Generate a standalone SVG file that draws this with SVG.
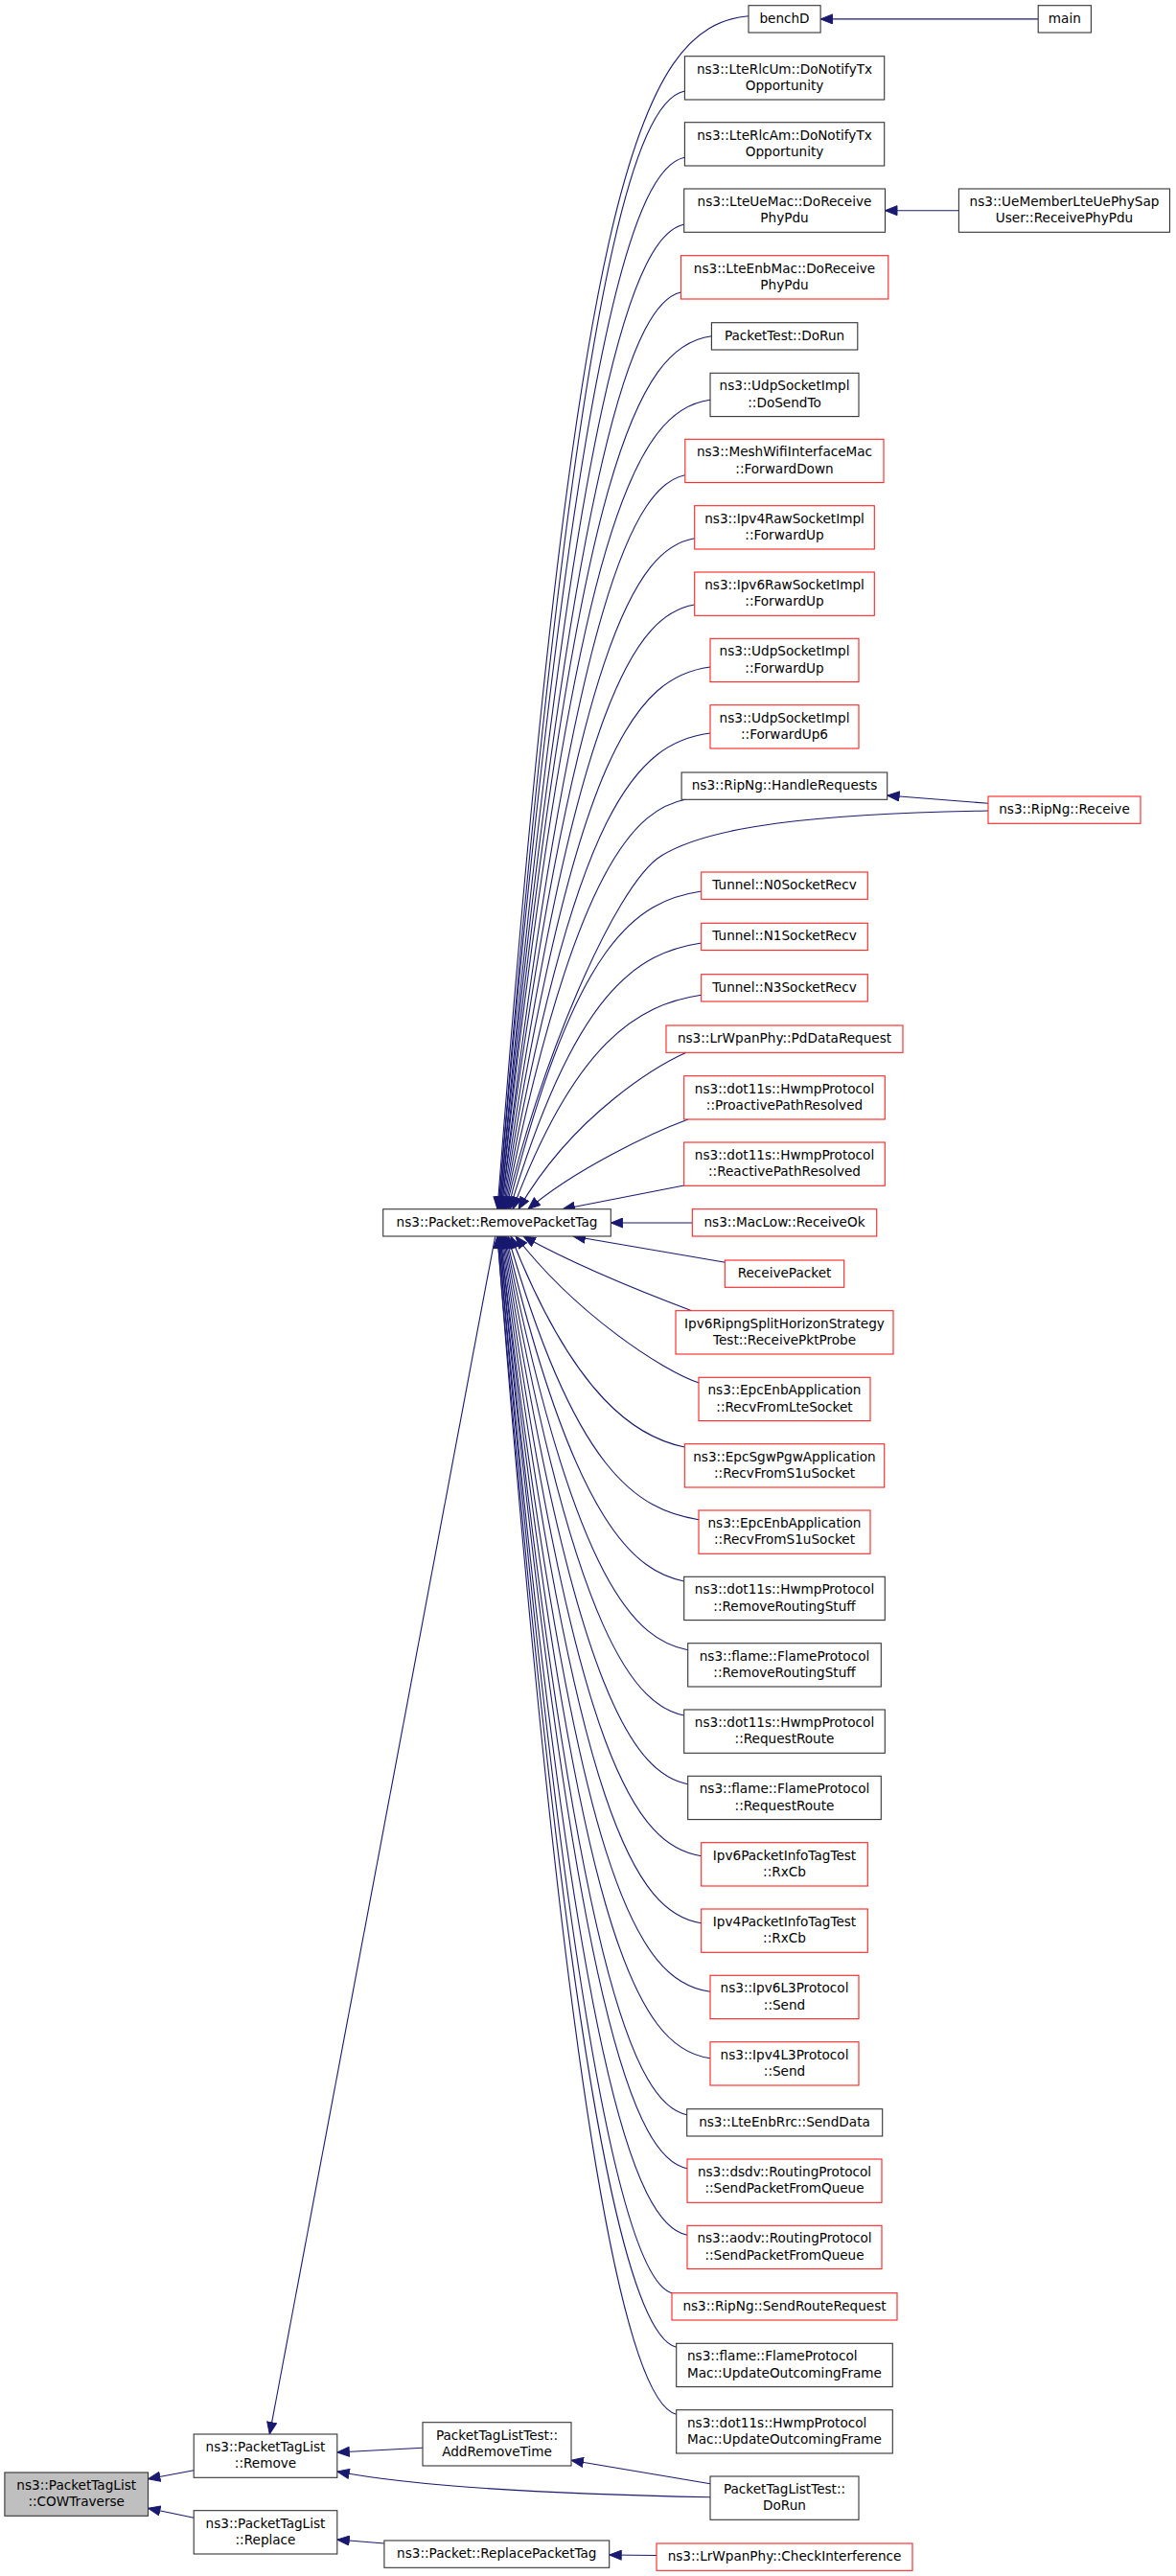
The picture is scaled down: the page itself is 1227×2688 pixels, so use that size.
<svg xmlns="http://www.w3.org/2000/svg" width="1227" height="2688" viewBox="0 0 1227 2688">
<style>
.n rect{fill:#fff;stroke:#333;stroke-width:1.1}
.r rect{fill:#fff;stroke:#f22;stroke-width:1.1}
.g rect{fill:#bfbfbf;stroke:#333;stroke-width:1.1}
text{font-family:"DejaVu Sans","Liberation Sans",sans-serif;font-size:13.6px;fill:#000;text-anchor:middle}
text.l{text-anchor:start}
#edges path{fill:none;stroke:#191970;stroke-width:1.1;marker-end:url(#a)}
</style>
<defs>
<marker id="a" markerUnits="userSpaceOnUse" markerWidth="14" markerHeight="11" viewBox="0 0 14 11" refX="13" refY="5.5" orient="auto">
<path d="M0.5,0.5 L13,5.5 L0.5,10.5 Z" fill="#191970" stroke="#191970" stroke-width="1"/>
</marker>
</defs>
<rect width="1227" height="2688" fill="#fff"/>
<g id="edges">
<path d="M781,16.7 C665,26.7 600,203.5 519,1261.7"/>
<path d="M714.4,95 C665,105 600,270 520,1261.7"/>
<path d="M714.4,164.3 C665,174.3 600,328.9 520,1261.7"/>
<path d="M713.7,234.3 C665,244.3 600,388.4 521,1261.7"/>
<path d="M710.4,305 C665,315 600,448.5 521,1261.7"/>
<path d="M742.4,350.7 C665,360.7 600,487.4 522,1261.7"/>
<path d="M741,417.3 C665,427.3 600,544 522,1261.7"/>
<path d="M714.8,495.7 C665,505.7 600,610.6 523,1261.7"/>
<path d="M724.7,561.7 C665,571.7 600,666.7 523,1261.7"/>
<path d="M724.7,631 C665,641 600,725.6 524,1261.7"/>
<path d="M741,696 C665,706 600,780.9 525,1261.7"/>
<path d="M741,765 C665,775 600,839.5 526,1261.7"/>
<path d="M716,834 C665,844 600,898.2 527,1261.7"/>
<path d="M1031,846 C850,849 740,862 690,893 S560,1120 528,1261.7"/>
<path d="M731.7,930 C665,940 600,980 530,1261.7"/>
<path d="M731.7,984 C665,994 600,1034 532,1261.7"/>
<path d="M731.7,1038.3 C665,1048.3 600,1088.3 535,1261.7"/>
<path d="M716,1098.3 C690,1110 600,1160 541,1261.7"/>
<path d="M718,1168 C680,1182 600,1220 551,1261.7"/>
<path d="M713.7,1237 L587,1261.7"/>
<path d="M722.3,1276 L637.3,1276"/>
<path d="M756.7,1317.3 L598,1290"/>
<path d="M721.7,1367.7 C680,1352 600,1320 546,1290"/>
<path d="M730,1443.3 C690,1430 600,1370 538,1290"/>
<path d="M714.3,1510 C665,1500 600,1460 533,1290"/>
<path d="M729,1585.7 C665,1575.7 600,1535.7 530,1290"/>
<path d="M713.7,1650 C665,1640 600,1596 528,1290"/>
<path d="M717.7,1721.7 C665,1711.7 600,1656.9 527,1290"/>
<path d="M713.7,1790 C665,1780 600,1715 526,1290"/>
<path d="M717.7,1861.7 C665,1851.7 600,1775.9 525,1290"/>
<path d="M731.7,1936.7 C665,1926.7 600,1839.7 524,1290"/>
<path d="M731.7,2006.7 C665,1996.7 600,1899.2 523,1290"/>
<path d="M741,2078.3 C665,2068.3 600,1960.1 522,1290"/>
<path d="M741,2147.7 C665,2137.7 600,2019 522,1290"/>
<path d="M716.7,2206.7 C665,2196.7 600,2069.2 521,1290"/>
<path d="M717,2262.7 C665,2252.7 600,2116.8 521,1290"/>
<path d="M717,2332.3 C665,2322.3 600,2176 520,1290"/>
<path d="M701,2392.7 C665,2382.7 600,2227.3 520,1290"/>
<path d="M705.7,2449.3 C665,2439.3 600,2275.4 519,1290"/>
<path d="M705.7,2519.3 C665,2509.3 600,2334.9 519,1290"/>
<path d="M1083.2,19.9 L856.1,19.9"/>
<path d="M1000.4,219.7 L923.5,219.7"/>
<path d="M1031,838.3 L925.7,830"/>
<path d="M516.7,1290 L281.3,2540"/>
<path d="M441,2554.3 L351.8,2559"/>
<path d="M741,2591.7 L596,2567.3"/>
<path d="M741,2605.7 C600,2603 440,2596 351.8,2579"/>
<path d="M202.2,2577.7 L154.5,2586.7"/>
<path d="M202.2,2627.3 L154.5,2617.3"/>
<path d="M400.9,2654 L351.8,2650"/>
<path d="M685,2666.5 L635.7,2666"/>
</g>
<g id="n_benchD" class="n"><rect x="781" y="5.7" width="75.1" height="28.3"/><text x="818.5" y="23.7">benchD</text></g>
<g id="n_main" class="n"><rect x="1083.2" y="5.7" width="55.2" height="28.3"/><text x="1110.8" y="23.7">main</text></g>
<g id="n_LteRlcUm" class="n"><rect x="714.4" y="58.7" width="208.3" height="45.3"/><text x="818.5" y="76.7">ns3::LteRlcUm::DoNotifyTx</text><text x="818.5" y="94">Opportunity</text></g>
<g id="n_LteRlcAm" class="n"><rect x="714.4" y="127.7" width="208.3" height="45.3"/><text x="818.5" y="145.7">ns3::LteRlcAm::DoNotifyTx</text><text x="818.5" y="163">Opportunity</text></g>
<g id="n_LteUeMac" class="n"><rect x="713.7" y="197" width="209.8" height="45.3"/><text x="818.5" y="215">ns3::LteUeMac::DoReceive</text><text x="818.5" y="232.3">PhyPdu</text></g>
<g id="n_UeMember" class="n"><rect x="1000.4" y="197" width="220.1" height="45.3"/><text x="1110.5" y="215">ns3::UeMemberLteUePhySap</text><text x="1110.5" y="232.3">User::ReceivePhyPdu</text></g>
<g id="n_LteEnbMac" class="r"><rect x="710.4" y="266.7" width="216.4" height="45.3"/><text x="818.5" y="284.7">ns3::LteEnbMac::DoReceive</text><text x="818.5" y="302">PhyPdu</text></g>
<g id="n_PacketTest" class="n"><rect x="742.4" y="336.7" width="152.4" height="28.3"/><text x="818.5" y="354.7">PacketTest::DoRun</text></g>
<g id="n_DoSendTo" class="n"><rect x="741" y="389.3" width="155" height="45.3"/><text x="818.5" y="407.3">ns3::UdpSocketImpl</text><text x="818.5" y="424.6">::DoSendTo</text></g>
<g id="n_MeshWifi" class="r"><rect x="714.8" y="458.3" width="207.2" height="45.3"/><text x="818.5" y="476.3">ns3::MeshWifiInterfaceMac</text><text x="818.5" y="493.6">::ForwardDown</text></g>
<g id="n_Ipv4Raw" class="r"><rect x="724.7" y="527.7" width="187.6" height="45.3"/><text x="818.5" y="545.7">ns3::Ipv4RawSocketImpl</text><text x="818.5" y="563">::ForwardUp</text></g>
<g id="n_Ipv6Raw" class="r"><rect x="724.7" y="597" width="187.6" height="45.3"/><text x="818.5" y="615">ns3::Ipv6RawSocketImpl</text><text x="818.5" y="632.3">::ForwardUp</text></g>
<g id="n_UdpFwdUp" class="r"><rect x="741" y="666.3" width="155" height="45.3"/><text x="818.5" y="684.3">ns3::UdpSocketImpl</text><text x="818.5" y="701.6">::ForwardUp</text></g>
<g id="n_UdpFwdUp6" class="r"><rect x="741" y="735.7" width="155" height="45.3"/><text x="818.5" y="753.7">ns3::UdpSocketImpl</text><text x="818.5" y="771">::ForwardUp6</text></g>
<g id="n_HandleRequests" class="n"><rect x="711.1" y="806" width="214.6" height="28.3"/><text x="818.5" y="824">ns3::RipNg::HandleRequests</text></g>
<g id="n_Receive" class="r"><rect x="1031" y="831" width="159" height="28.3"/><text x="1110.5" y="849">ns3::RipNg::Receive</text></g>
<g id="n_N0" class="r"><rect x="731.7" y="910" width="173.6" height="28.3"/><text x="818.5" y="928">Tunnel::N0SocketRecv</text></g>
<g id="n_N1" class="r"><rect x="731.7" y="963.3" width="173.6" height="28.3"/><text x="818.5" y="981.3">Tunnel::N1SocketRecv</text></g>
<g id="n_N3" class="r"><rect x="731.7" y="1016.7" width="173.6" height="28.3"/><text x="818.5" y="1034.7">Tunnel::N3SocketRecv</text></g>
<g id="n_PdData" class="r"><rect x="695" y="1070" width="247" height="28.3"/><text x="818.5" y="1088">ns3::LrWpanPhy::PdDataRequest</text></g>
<g id="n_Proactive" class="r"><rect x="713.7" y="1122.7" width="209.6" height="45.3"/><text x="818.5" y="1140.7">ns3::dot11s::HwmpProtocol</text><text x="818.5" y="1158">::ProactivePathResolved</text></g>
<g id="n_Reactive" class="r"><rect x="713.7" y="1192" width="209.6" height="45.3"/><text x="818.5" y="1210">ns3::dot11s::HwmpProtocol</text><text x="818.5" y="1227.3">::ReactivePathResolved</text></g>
<g id="n_MacLow" class="r"><rect x="722.3" y="1261.7" width="192.4" height="28.3"/><text x="818.5" y="1279.7">ns3::MacLow::ReceiveOk</text></g>
<g id="n_RemovePacketTag" class="n"><rect x="399.7" y="1261.7" width="237.6" height="28.3"/><text x="518.5" y="1279.7">ns3::Packet::RemovePacketTag</text></g>
<g id="n_ReceivePacket" class="r"><rect x="756.3" y="1315" width="124.4" height="28.3"/><text x="818.5" y="1333">ReceivePacket</text></g>
<g id="n_Ipv6Ripng" class="r"><rect x="705" y="1367.7" width="227" height="45.3"/><text x="818.5" y="1385.7">Ipv6RipngSplitHorizonStrategy</text><text x="818.5" y="1403">Test::ReceivePktProbe</text></g>
<g id="n_EpcEnbLte" class="r"><rect x="729" y="1437.3" width="179" height="45.3"/><text x="818.5" y="1455.3">ns3::EpcEnbApplication</text><text x="818.5" y="1472.6">::RecvFromLteSocket</text></g>
<g id="n_EpcSgw" class="r"><rect x="714.3" y="1506.7" width="208.4" height="45.3"/><text x="818.5" y="1524.7">ns3::EpcSgwPgwApplication</text><text x="818.5" y="1542">::RecvFromS1uSocket</text></g>
<g id="n_EpcEnbS1u" class="r"><rect x="729" y="1576" width="179" height="45.3"/><text x="818.5" y="1594">ns3::EpcEnbApplication</text><text x="818.5" y="1611.3">::RecvFromS1uSocket</text></g>
<g id="n_dot11sRRS" class="n"><rect x="713.7" y="1645.3" width="209.6" height="45.3"/><text x="818.5" y="1663.3">ns3::dot11s::HwmpProtocol</text><text x="818.5" y="1680.6">::RemoveRoutingStuff</text></g>
<g id="n_flameRRS" class="n"><rect x="717.7" y="1714.7" width="201.6" height="45.3"/><text x="818.5" y="1732.7">ns3::flame::FlameProtocol</text><text x="818.5" y="1750">::RemoveRoutingStuff</text></g>
<g id="n_dot11sRR" class="n"><rect x="713.7" y="1784" width="209.6" height="45.3"/><text x="818.5" y="1802">ns3::dot11s::HwmpProtocol</text><text x="818.5" y="1819.3">::RequestRoute</text></g>
<g id="n_flameRR" class="n"><rect x="717.7" y="1853.3" width="201.6" height="45.3"/><text x="818.5" y="1871.3">ns3::flame::FlameProtocol</text><text x="818.5" y="1888.6">::RequestRoute</text></g>
<g id="n_Ipv6PI" class="r"><rect x="731.7" y="1922.7" width="173.6" height="45.3"/><text x="818.5" y="1940.7">Ipv6PacketInfoTagTest</text><text x="818.5" y="1958">::RxCb</text></g>
<g id="n_Ipv4PI" class="r"><rect x="731.7" y="1992" width="173.6" height="45.3"/><text x="818.5" y="2010">Ipv4PacketInfoTagTest</text><text x="818.5" y="2027.3">::RxCb</text></g>
<g id="n_Ipv6L3" class="r"><rect x="741" y="2061.3" width="155" height="45.3"/><text x="818.5" y="2079.3">ns3::Ipv6L3Protocol</text><text x="818.5" y="2096.6">::Send</text></g>
<g id="n_Ipv4L3" class="r"><rect x="741" y="2130.7" width="155" height="45.3"/><text x="818.5" y="2148.7">ns3::Ipv4L3Protocol</text><text x="818.5" y="2166">::Send</text></g>
<g id="n_LteEnbRrc" class="n"><rect x="716.7" y="2200.7" width="204" height="28.3"/><text x="818.5" y="2218.7">ns3::LteEnbRrc::SendData</text></g>
<g id="n_dsdv" class="r"><rect x="717" y="2253" width="203" height="45.3"/><text x="818.5" y="2271">ns3::dsdv::RoutingProtocol</text><text x="818.5" y="2288.3">::SendPacketFromQueue</text></g>
<g id="n_aodv" class="r"><rect x="717" y="2322.3" width="203" height="45.3"/><text x="818.5" y="2340.3">ns3::aodv::RoutingProtocol</text><text x="818.5" y="2357.6">::SendPacketFromQueue</text></g>
<g id="n_SRR" class="r"><rect x="701" y="2392.7" width="235" height="28.3"/><text x="818.5" y="2410.7">ns3::RipNg::SendRouteRequest</text></g>
<g id="n_flameUOF" class="n"><rect x="705.7" y="2445.3" width="225.6" height="45.3"/><text class="l" x="717" y="2463.3">ns3::flame::FlameProtocol</text><text class="l" x="717" y="2480.6">Mac::UpdateOutcomingFrame</text></g>
<g id="n_dot11sUOF" class="n"><rect x="705.7" y="2514.7" width="225.6" height="45.3"/><text class="l" x="717" y="2532.7">ns3::dot11s::HwmpProtocol</text><text class="l" x="717" y="2550">Mac::UpdateOutcomingFrame</text></g>
<g id="n_PTLTDoRun" class="n"><rect x="741" y="2584" width="155" height="45.3"/><text x="818.5" y="2602">PacketTagListTest::</text><text x="818.5" y="2619.3">DoRun</text></g>
<g id="n_CheckInterference" class="r"><rect x="685" y="2654" width="267" height="28.3"/><text x="818.5" y="2672">ns3::LrWpanPhy::CheckInterference</text></g>
<g id="n_COWTraverse" class="g"><rect x="4.9" y="2580" width="149.6" height="45.3"/><text x="79.7" y="2598">ns3::PacketTagList</text><text x="79.7" y="2615.3">::COWTraverse</text></g>
<g id="n_Remove" class="n"><rect x="202.2" y="2540" width="149.6" height="45.3"/><text x="277" y="2558">ns3::PacketTagList</text><text x="277" y="2575.3">::Remove</text></g>
<g id="n_Replace" class="n"><rect x="202.2" y="2619.7" width="149.6" height="45.3"/><text x="277" y="2637.7">ns3::PacketTagList</text><text x="277" y="2655">::Replace</text></g>
<g id="n_AddRemoveTime" class="n"><rect x="441" y="2527.7" width="155" height="45.3"/><text x="518.5" y="2545.7">PacketTagListTest::</text><text x="518.5" y="2563">AddRemoveTime</text></g>
<g id="n_ReplacePacketTag" class="n"><rect x="400.9" y="2651" width="234.8" height="28.3"/><text x="518.3" y="2669">ns3::Packet::ReplacePacketTag</text></g>
</svg>
